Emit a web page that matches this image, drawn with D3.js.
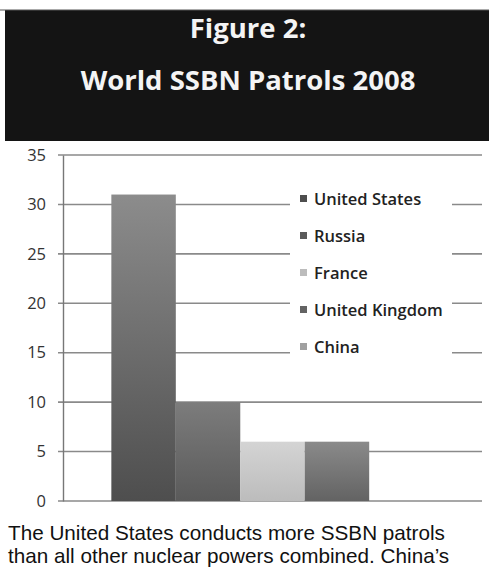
<!DOCTYPE html>
<html lang="en">
<head>
<meta charset="UTF-8">
<script src="https://cdn.jsdelivr.net/npm/d3@7"></script>
<title>World SSBN Patrols 2008</title>
<style>
  body { margin: 0; background: #fff; }
</style>
</head>
<body>
<script>
var width = 489,
    height = 571;

// data
var categories = ["2008"];
var series = ["United States", "Russia", "France", "United Kingdom", "China"];
var patrols = [31, 10, 6, 6, 0];
var yTicks = [0, 5, 10, 15, 20, 25, 30, 35];
var titleLines = ["Figure 2:", "World SSBN Patrols 2008"];
var captionLines = ["The United States conducts more SSBN patrols",
                    "than all other nuclear powers combined. China\u2019s"];

// bar shades, top -> bottom
var shades = [["#8c8c8c", "#4e4e4e"], ["#7c7c7c", "#5a5a5a"], ["#d4d4d4", "#bcbcbc"],
              ["#8a8a8a", "#636363"], ["#b4b4b4", "#a0a0a0"]];

var svg = d3.select("body").append("svg")
    .attr("width", width).attr("height", height);

var defs = svg.append("defs");
shades.forEach(function(s, i){
    var g = defs.append("linearGradient").attr("id", "g" + i)
        .attr("x1", 0).attr("y1", 0).attr("x2", 0).attr("y2", 1);
    g.append("stop").attr("offset", "0%").attr("stop-color", s[0]);
    g.append("stop").attr("offset", "100%").attr("stop-color", s[1]);
});

// header
svg.append("rect").attr("x", 5).attr("y", 10)
    .attr("width", width - 5).attr("height", 131)
    .attr("fill", "#141414");
svg.append("line").attr("x1", 0).attr("x2", width).attr("y1", 10).attr("y2", 10)
    .attr("stroke", "#555").attr("stroke-width", 1);

svg.selectAll(".title").data(titleLines)
    .enter().append("text")
    .attr("class", "title")
    .attr("x", 248)
    .attr("y", function(d, i){ return 38 + i * 52; })
    .attr("text-anchor", "middle")
    .attr("fill", "#f4f4f4")
    .attr("font-family", "Open Sans, sans-serif")
    .attr("font-weight", "bold")
    .attr("font-size", "27.5px")
    .text(function(d){ return d; });

// chart area
var padding = {top: 155, right: 7, bottom: 70, left: 63};
var plotW = width - padding.left - padding.right,
    plotH = height - padding.top - padding.bottom;

var g = svg.append("g")
    .attr("transform", "translate(" + padding.left + "," + padding.top + ")");

var y = d3.scaleLinear().domain([0, 35]).range([plotH, 0]);
var x0 = d3.scaleBand().domain(categories).range([0, plotW]).paddingOuter(0.15).paddingInner(0);
var x1 = d3.scaleBand().domain(series).range([0, x0.bandwidth()]);

// grid lines
g.selectAll(".grid").data(yTicks)
    .enter().append("line")
    .attr("class", "grid")
    .attr("x1", -5).attr("x2", plotW)
    .attr("y1", function(d){ return y(d); })
    .attr("y2", function(d){ return y(d); })
    .attr("stroke", "#8a8a8a")
    .attr("stroke-width", 1.6);

// axis
var yAxis = d3.axisLeft(y).tickValues(yTicks).tickSize(0).tickPadding(17);
var ax = g.append("g").call(yAxis);
ax.select(".domain").attr("stroke", "#777").attr("stroke-width", 1.4);
ax.selectAll("text")
    .attr("fill", "#333")
    .attr("font-family", "Open Sans, sans-serif")
    .attr("font-size", "16.5px");

// legend box (hides grid lines behind it)
var legend = g.append("g").attr("transform", "translate(227,18)");
legend.append("rect")
    .attr("x", 0).attr("y", 0)
    .attr("width", 162).attr("height", 195)
    .attr("fill", "#fff");

// bars
g.selectAll(".bar").data(patrols)
    .enter().append("rect")
    .attr("class", "bar")
    .attr("x", function(d, i){ return x0(categories[0]) + x1(series[i]); })
    .attr("y", function(d){ return y(d); })
    .attr("width", x1.bandwidth())
    .attr("height", function(d){ return plotH - y(d); })
    .attr("fill", function(d, i){ return "url(#g" + i + ")"; });

var item = legend.selectAll(".item").data(series)
    .enter().append("g")
    .attr("class", "item")
    .attr("transform", function(d, i){ return "translate(10," + (32 + i * 37) + ")"; });
item.append("rect")
    .attr("x", 0).attr("y", -10)
    .attr("width", 7).attr("height", 7)
    .attr("fill", function(d, i){ return shades[i][1]; });
item.append("text")
    .attr("x", 14).attr("y", 0)
    .attr("fill", "#222")
    .attr("font-family", "Open Sans, sans-serif")
    .attr("font-weight", 600)
    .attr("font-size", "16.5px")
    .text(function(d){ return d; });

// caption
svg.selectAll(".caption").data(captionLines)
    .enter().append("text")
    .attr("class", "caption")
    .attr("x", 8)
    .attr("y", function(d, i){ return 540 + i * 23; })
    .attr("fill", "#111")
    .attr("font-family", "Liberation Sans, Arial, sans-serif")
    .attr("font-size", "20.7px")
    .text(function(d){ return d; });
</script>
</body>
</html>
